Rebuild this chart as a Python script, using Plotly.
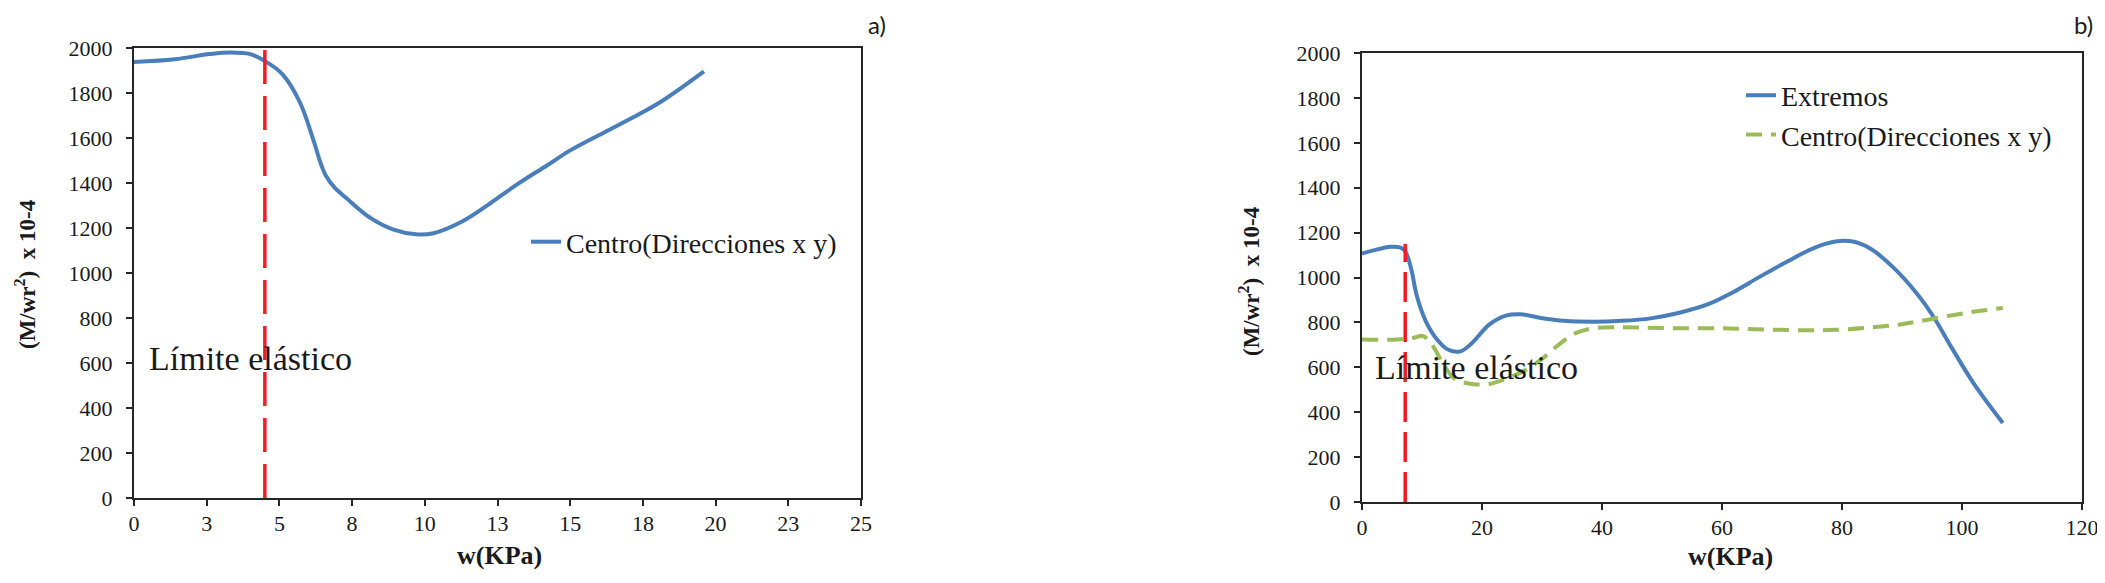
import plotly.graph_objects as go

# chart a) - centro
w_a = [0, 1.4, 2.6, 3.3, 4.0, 4.5, 5.1, 5.7, 6.2, 6.4, 6.6, 6.9, 7.3, 8.1, 8.9, 9.7,
       10.3, 11.3, 12.2, 13.2, 14.2, 15.0, 16.2, 17.2, 18.2, 19.6]
centro_a = [1938, 1950, 1973, 1980, 1973, 1942, 1884, 1760, 1578, 1495, 1432, 1379,
            1333, 1247, 1194, 1172, 1177, 1230, 1305, 1396, 1478, 1545, 1627, 1694,
            1768, 1896]
xtick_vals_a = [0, 2.5, 5, 7.5, 10, 12.5, 15, 17.5, 20, 22.5, 25]
xtick_text_a = ["0", "3", "5", "8", "10", "13", "15", "18", "20", "23", "25"]
limite_a = 4.5
limite_a_top = 2000

# chart b) - extremos y centro
w_b_ext = [0, 1.9, 4.8, 6.3, 7.2, 8.2, 9.1, 10.6, 12.5, 14.4, 16.4, 18.3, 21.2, 24.1,
           26.5, 29.8, 33.7, 38.5, 43.3, 48.1, 52.9, 57.7, 61.6, 66.4, 71.2, 75.1,
           78.9, 81.8, 84.7, 88.5, 92.4, 95.3, 98.2, 102.0, 106.8]
extremos_b = [1107, 1121, 1137, 1134, 1117, 1038, 922, 807, 724, 678, 671, 707, 790,
              831, 836, 820, 807, 803, 807, 818, 843, 881, 931, 1005, 1076, 1129,
              1160, 1160, 1129, 1046, 931, 823, 691, 526, 352]
w_b_cen = [0, 5.8, 8.7, 10.1, 11.5, 13.5, 15.4, 18.3, 21.2, 24.1, 26.9, 29.8, 32.7,
           35.6, 38.5, 42.3, 46.2, 52.0, 59.7, 65.4, 73.1, 78.9, 84.7, 89.5, 94.3,
           100.1, 106.8]
centro_b = [724, 724, 732, 740, 707, 617, 550, 526, 526, 550, 583, 633, 699, 752, 774,
            779, 777, 774, 774, 770, 765, 767, 777, 790, 812, 840, 864]
xtick_vals_b = [0, 20, 40, 60, 80, 100, 120]
limite_b = 7.2
limite_b_top = 1150

yticks = [0, 200, 400, 600, 800, 1000, 1200, 1400, 1600, 1800, 2000]

BLUE = "#4A7EBB"
GREEN = "#9BBB59"
RED = "#F01E23"
INK = "#1a1a1a"
SERIF = "Liberation Serif, Times New Roman, serif"

# page body has an 8px margin, so the figure is a bit smaller than the window
M = 8
W, H = 2105 - 2 * M, 583 - 2 * M


def px(x):
    return (x - M) / W


def py(y):
    return 1 - (y - M) / H


fig = go.Figure()

# a)
fig.add_trace(go.Scatter(x=w_a, y=centro_a, mode="lines", line_shape="spline",
                         line=dict(color=BLUE, width=4),
                         name="Centro(Direcciones x y)", legend="legend",
                         xaxis="x", yaxis="y"))
fig.add_trace(go.Scatter(x=[limite_a, limite_a], y=[0, limite_a_top], mode="lines",
                         line=dict(color=RED, width=3.5, dash="34px,12px"),
                         showlegend=False, xaxis="x", yaxis="y"))

# b)
fig.add_trace(go.Scatter(x=w_b_ext, y=extremos_b, mode="lines", line_shape="spline",
                         line=dict(color=BLUE, width=4),
                         name="Extremos", legend="legend2",
                         xaxis="x2", yaxis="y2"))
fig.add_trace(go.Scatter(x=w_b_cen, y=centro_b, mode="lines", line_shape="spline",
                         line=dict(color=GREEN, width=4, dash="16px,9px"),
                         name="Centro(Direcciones x y)", legend="legend2",
                         xaxis="x2", yaxis="y2"))
fig.add_trace(go.Scatter(x=[limite_b, limite_b], y=[0, limite_b_top], mode="lines",
                         line=dict(color=RED, width=3.5, dash="30px,10px"),
                         showlegend=False, xaxis="x2", yaxis="y2"))

axis_common = dict(showline=True, linecolor="#262626", linewidth=2, mirror=True,
                   ticks="outside", ticklen=6, tickwidth=2, tickcolor="#262626",
                   showgrid=False, zeroline=False, automargin=False,
                   ticklabeloverflow="allow",
                   tickfont=dict(family=SERIF, size=22, color=INK))

fig.update_layout(
    width=W, height=H,
    margin=dict(l=0, r=0, t=0, b=0),
    paper_bgcolor="white", plot_bgcolor="white",
    xaxis=dict(domain=[px(134), px(861)], range=[0, 25], anchor="y",
               tickvals=xtick_vals_a, ticktext=xtick_text_a, ticklabelstandoff=-1,
               **axis_common),
    yaxis=dict(domain=[py(498), py(48)], range=[0, 2000], anchor="x",
               tickvals=yticks, ticklabelstandoff=9, **axis_common),
    xaxis2=dict(domain=[px(1362), px(2082)], range=[0, 120], anchor="y2",
                tickvals=xtick_vals_b, ticklabelstandoff=-1, **axis_common),
    yaxis2=dict(domain=[py(502), py(53)], range=[0, 2000], anchor="x2",
                tickvals=yticks, ticklabelstandoff=9, **axis_common),
    legend=dict(x=px(526), y=py(242), xanchor="left", yanchor="middle",
                bgcolor="rgba(0,0,0,0)", font=dict(family=SERIF, size=28, color=INK)),
    legend2=dict(x=px(1741), y=py(115), xanchor="left", yanchor="middle",
                 bgcolor="rgba(0,0,0,0)", font=dict(family=SERIF, size=28, color=INK),
                 tracegroupgap=0),
    showlegend=True,
)

title_font = dict(family=SERIF, size=26, color=INK)
ytitle_font = dict(family=SERIF, size=23, color=INK)
label_font = dict(family=SERIF, size=34, color=INK)
panel_font = dict(family="Lato, sans-serif", size=24, color=INK)
ann = [
    dict(text="Límite elástico", x=0.45, y=618, xref="x", yref="y",
         xanchor="left", yanchor="middle", showarrow=False, font=label_font),
    dict(text="Límite elástico", x=1.8, y=597, xref="x2", yref="y2",
         xanchor="left", yanchor="middle", showarrow=False, font=label_font),
    dict(text="<b>w(KPa)</b>", x=px(499), y=py(555), showarrow=False, font=title_font),
    dict(text="<b>w(KPa)</b>", x=px(1730), y=py(556), showarrow=False, font=title_font),
    dict(text="<b>(M/wr<sup>2</sup>)  x 10-4</b>", x=px(25), y=py(274),
         textangle=-90, showarrow=False, font=ytitle_font),
    dict(text="<b>(M/wr<sup>2</sup>)  x 10-4</b>", x=px(1250), y=py(281),
         textangle=-90, showarrow=False, font=ytitle_font),
    dict(text="a)", x=px(877), y=1, yanchor="top", showarrow=False, font=panel_font),
    dict(text="b)", x=px(2083), y=1, yanchor="top", showarrow=False, font=panel_font),
]
for a in ann:
    a.setdefault("xref", "paper")
    a.setdefault("yref", "paper")
    a.setdefault("xanchor", "center")
    a.setdefault("yanchor", "middle")
fig.update_layout(annotations=ann)

fig.write_html("out.html")
